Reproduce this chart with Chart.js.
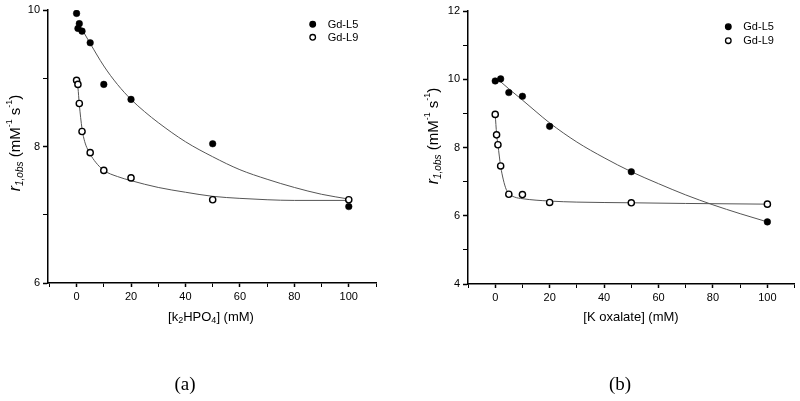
<!DOCTYPE html>
<html lang="en">
<head>
  <meta charset="UTF-8" />
  <script src="https://cdn.jsdelivr.net/npm/chart.js"></script>
  <title>Relaxivity vs anion concentration</title>
  <style>
    body { margin: 0; background: #fff; }
    .wrap { display: flex; width: 800px; height: 401px; }
    .panel { width: 400px; height: 401px; }
  </style>
</head>
<body>
  <div class="wrap">
    <div class="panel"><canvas id="chartA" width="400" height="401"></canvas></div>
    <div class="panel"><canvas id="chartB" width="400" height="401"></canvas></div>
  </div>

  <script>
    // concentrations (mM)
    const concA = [0, 0.5, 1, 2, 5, 10, 20, 50, 100];
    const concB5 = [0, 2, 5, 10, 20, 50, 100];
    const concB9 = [0, 0.5, 1, 2, 5, 10, 20, 50, 100];

    // (a) K2HPO4 - measured r1,obs
    const aL5 = [9.95, 9.73, 9.80, 9.69, 9.52, 8.91, 8.69, 8.04, 7.12];
    const aL9 = [8.97, 8.91, 8.63, 8.22, 7.91, 7.65, 7.54, 7.22, 7.22];
    // (a) fitted curves
    const aFitL5x = [1.5, 5, 10, 15, 20, 25, 30, 40, 50, 60, 70, 80, 90, 100];
    const aFitL5y = [9.75, 9.51, 9.18, 8.91, 8.69, 8.51, 8.35, 8.07, 7.85, 7.66, 7.52, 7.40, 7.30, 7.23];
    const aFitL9x = [0, 0.5, 1, 2, 3, 5, 7, 10, 15, 20, 30, 40, 50, 60, 70, 80, 100];
    const aFitL9y = [8.97, 8.86, 8.62, 8.26, 8.07, 7.89, 7.77, 7.65, 7.56, 7.50, 7.40, 7.33, 7.27, 7.24, 7.22, 7.21, 7.21];

    // (b) K oxalate - measured r1,obs
    const bL5 = [9.95, 10.01, 9.61, 9.50, 8.62, 7.29, 5.82];
    const bL9 = [8.97, 8.37, 8.08, 7.46, 6.63, 6.62, 6.39, 6.38, 6.34];
    // (b) fitted curves
    const bFitL5x = [1.5, 5, 10, 15, 20, 30, 40, 50, 60, 70, 80, 90, 100];
    const bFitL5y = [9.96, 9.72, 9.39, 9.05, 8.72, 8.16, 7.70, 7.29, 6.94, 6.61, 6.32, 6.06, 5.82];
    const bFitL9x = [0, 0.5, 1, 2, 3, 4, 5, 7, 10, 20, 30, 50, 70, 100];
    const bFitL9y = [8.98, 8.40, 8.08, 7.45, 7.05, 6.78, 6.65, 6.55, 6.50, 6.43, 6.40, 6.38, 6.36, 6.34];

    // axis ticks
    const xTicks = [-10, 0, 10, 20, 30, 40, 50, 60, 70, 80, 90, 100, 110];
    const xLabels = [0, 20, 40, 60, 80, 100];
    const aYTicks = [6, 7, 8, 9, 10];
    const aYLabels = [6, 8, 10];
    const bYTicks = [4, 5, 6, 7, 8, 9, 10, 11, 12];
    const bYLabels = [4, 6, 8, 10, 12];
    const seriesNames = ["Gd-L5", "Gd-L9"];

    const SANS = "'Liberation Sans Narrow', 'Liberation Sans', Arial, sans-serif";

    function pts(xs, ys) {
      return xs.map((x, i) => ({ x: x, y: ys[i] }));
    }

    // draw a line of text made of pieces (sub/superscripts), centred on x
    function drawRich(ctx, parts, x, y) {
      let total = 0;
      parts.forEach(p => { ctx.font = p.f; total += ctx.measureText(p.t).width; });
      let cx = x - total / 2;
      parts.forEach(p => {
        ctx.font = p.f;
        ctx.fillText(p.t, cx, y + (p.dy || 0));
        cx += ctx.measureText(p.t).width;
      });
    }

    const decor = {
      id: 'decor',
      afterDraw(chart, args, o) {
        const ctx = chart.ctx;
        ctx.save();
        ctx.fillStyle = '#000';
        ctx.textBaseline = 'middle';
        ctx.textAlign = 'left';

        // y title, rotated
        ctx.save();
        ctx.translate(o.yTitle[0], o.yTitle[1]);
        ctx.rotate(-Math.PI / 2);
        drawRich(ctx, [
          { t: 'r', f: 'italic 16px ' + SANS },
          { t: '1,obs', f: 'italic 10px ' + SANS, dy: 4 },
          { t: ' (mM', f: '15px ' + SANS },
          { t: '-1', f: '9px ' + SANS, dy: -6 },
          { t: ' s', f: '15px ' + SANS },
          { t: '-1', f: '9px ' + SANS, dy: -6 },
          { t: ')', f: '15px ' + SANS }
        ], 0, 0);
        ctx.restore();

        // x title
        drawRich(ctx, o.xTitleParts, o.xTitle[0], o.xTitle[1]);

        // panel letter
        ctx.font = "19px 'Liberation Serif', 'Times New Roman', serif";
        ctx.textAlign = 'center';
        ctx.fillText(o.panel, o.panelPos[0], o.panelPos[1]);

        // legend
        ctx.textAlign = 'left';
        ctx.font = '11px ' + SANS;
        seriesNames.forEach((name, i) => {
          const lx = o.legend[0], ly = o.legend[1] + i * o.legend[2];
          ctx.beginPath();
          ctx.arc(lx, ly, 2.8, 0, Math.PI * 2);
          ctx.fillStyle = i === 0 ? '#000' : '#fff';
          ctx.fill();
          ctx.lineWidth = 1.3;
          ctx.strokeStyle = '#000';
          ctx.stroke();
          ctx.fillStyle = '#000';
          ctx.fillText(name, lx + 15, ly + 0.5);
        });
        ctx.restore();
      }
    };

    function makeChart(id, cfg) {
      const tickFont = { family: SANS, size: 11 };
      new Chart(document.getElementById(id), {
        type: 'scatter',
        data: {
          datasets: [
            {
              label: seriesNames[0], data: cfg.l5,
              pointRadius: 3.3, pointBackgroundColor: '#000', pointBorderColor: '#000', pointBorderWidth: 0.5
            },
            {
              label: seriesNames[1], data: cfg.l9,
              pointRadius: 3.1, pointBackgroundColor: '#fff', pointBorderColor: '#000', pointBorderWidth: 1.4
            },
            {
              label: 'fit L5', data: cfg.fit5, showLine: true, pointRadius: 0,
              borderColor: '#555', borderWidth: 1, cubicInterpolationMode: 'monotone'
            },
            {
              label: 'fit L9', data: cfg.fit9, showLine: true, pointRadius: 0,
              borderColor: '#555', borderWidth: 1, cubicInterpolationMode: 'monotone'
            }
          ]
        },
        options: {
          responsive: false,
          animation: false,
          events: [],
          layout: { padding: cfg.padding },
          plugins: {
            legend: { display: false },
            tooltip: { enabled: false },
            decor: cfg.decor
          },
          scales: {
            x: {
              type: 'linear', min: cfg.xMin, max: 110,
              afterBuildTicks: s => { s.ticks = xTicks.map(v => ({ value: v })); },
              afterFit: s => { s.height = cfg.xHeight; },
              border: { color: '#000', width: 1.5 },
              grid: {
                drawOnChartArea: false, drawTicks: true, tickLength: 4, tickColor: '#000',
                tickWidth: c => xLabels.includes(c.tick.value) ? 1.5 : 1
              },
              ticks: {
                color: '#000', font: tickFont, padding: 3, maxRotation: 0, autoSkip: false,
                callback: v => xLabels.includes(v) ? String(v) : ''
              }
            },
            y: {
              type: 'linear', min: cfg.yTicks[0], max: cfg.yTicks[cfg.yTicks.length - 1],
              afterBuildTicks: s => { s.ticks = cfg.yTicks.map(v => ({ value: v })); },
              afterFit: s => { s.width = cfg.yWidth; },
              border: { color: '#000', width: 1.5 },
              grid: {
                drawOnChartArea: false, drawTicks: true, tickLength: 5, tickColor: '#000',
                tickWidth: c => cfg.yLabels.includes(c.tick.value) ? 1.5 : 1
              },
              ticks: {
                color: '#000', font: tickFont, padding: 3, autoSkip: false,
                callback: v => cfg.yLabels.includes(v) ? String(v) : ''
              }
            }
          }
        },
        plugins: [decor]
      });
    }

    makeChart('chartA', {
      l5: pts(concA, aL5),
      l9: pts(concA, aL9),
      fit5: pts(aFitL5x, aFitL5y),
      fit9: pts(aFitL9x, aFitL9y),
      xMin: -10.5,
      yTicks: aYTicks,
      yLabels: aYLabels,
      yWidth: 48,
      xHeight: 118,
      padding: { top: 10, right: 24, left: 0, bottom: 0 },
      decor: {
        yTitle: [16, 143],
        xTitle: [211, 317],
        xTitleParts: [
          { t: '[k', f: '13px ' + SANS },
          { t: '2', f: '9px ' + SANS, dy: 4 },
          { t: 'HPO', f: '13px ' + SANS },
          { t: '4', f: '9px ' + SANS, dy: 4 },
          { t: '] (mM)', f: '13px ' + SANS }
        ],
        panel: '(a)',
        panelPos: [185, 385],
        legend: [312.7, 24.3, 13]
      }
    });

    makeChart('chartB', {
      l5: pts(concB5, bL5),
      l9: pts(concB9, bL9),
      fit5: pts(bFitL5x, bFitL5y),
      fit9: pts(bFitL9x, bFitL9y),
      xMin: -10,
      yTicks: bYTicks,
      yLabels: bYLabels,
      yWidth: 68,
      xHeight: 117,
      padding: { top: 11, right: 5, left: 0, bottom: 0 },
      decor: {
        yTitle: [34, 136],
        xTitle: [231, 317],
        xTitleParts: [
          { t: '[K oxalate] (mM)', f: '13px ' + SANS }
        ],
        panel: '(b)',
        panelPos: [220, 385],
        legend: [328.3, 26.7, 14]
      }
    });
  </script>
</body>
</html>
